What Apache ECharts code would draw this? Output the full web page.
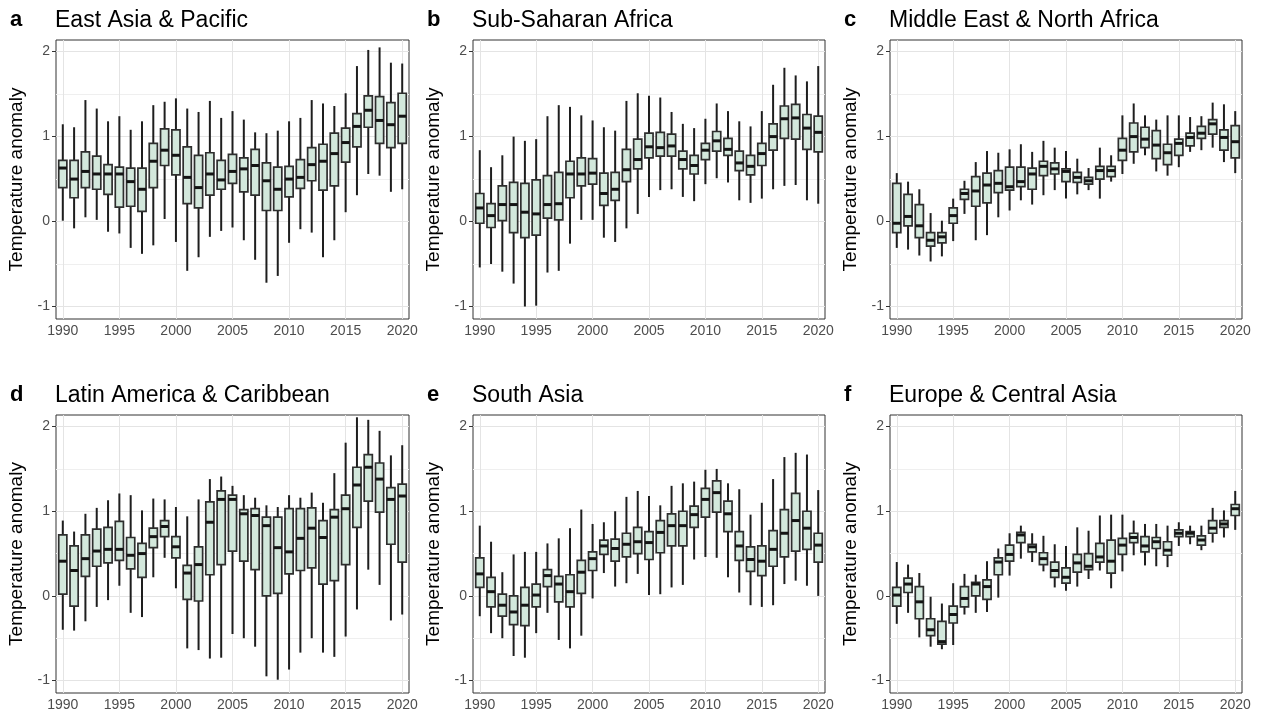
<!DOCTYPE html>
<html><head><meta charset="utf-8">
<script src="https://cdn.jsdelivr.net/npm/echarts@6/dist/echarts.min.js"></script>
<style>html,body{margin:0;padding:0;background:#fff}#c{width:1266px;height:718px}</style>
</head><body><div id="c"></div>
<script>
const years = [1990,1991,1992,1993,1994,1995,1996,1997,1998,1999,2000,2001,2002,2003,2004,2005,2006,2007,2008,2009,2010,2011,2012,2013,2014,2015,2016,2017,2018,2019,2020];
const xTicks = [1990,1995,2000,2005,2010,2015,2020];
const yTicks = [-1,0,1,2];
const gridMajorY = [-1,0,1,2];
const gridMinorY = [-0.5,0.5,1.5];
const regionNames = ['East Asia & Pacific','Sub-Saharan Africa','Middle East & North Africa','Latin America & Caribbean','South Asia','Europe & Central Asia'];
const panelLetters = ['a','b','c','d','e','f'];

// a: East Asia & Pacific
const eapMin = [0.01,-0.08,0.05,0.02,-0.12,-0.14,-0.31,-0.38,-0.28,0.03,-0.24,-0.58,-0.42,-0.18,-0.11,-0.07,-0.22,-0.45,-0.72,-0.64,-0.25,-0.09,-0.13,-0.42,-0.22,0.11,0.31,0.56,0.54,0.35,0.38];
const eapQ1  = [0.40,0.28,0.40,0.38,0.32,0.17,0.18,0.12,0.40,0.66,0.55,0.21,0.16,0.31,0.38,0.45,0.35,0.31,0.13,0.13,0.29,0.39,0.48,0.37,0.42,0.70,0.88,1.11,0.92,0.87,0.92];
const eapMed = [0.63,0.50,0.59,0.56,0.56,0.56,0.47,0.38,0.71,0.84,0.78,0.52,0.40,0.56,0.49,0.59,0.62,0.66,0.48,0.38,0.50,0.52,0.67,0.71,0.80,0.93,1.12,1.31,1.19,1.14,1.24];
const eapQ3  = [0.72,0.72,0.82,0.77,0.67,0.64,0.63,0.63,0.92,1.09,1.08,0.88,0.78,0.81,0.72,0.79,0.75,0.85,0.69,0.64,0.65,0.73,0.87,0.91,1.04,1.10,1.27,1.48,1.47,1.40,1.51];
const eapMax = [1.145,1.11,1.43,1.33,1.18,1.24,1.08,1.18,1.37,1.41,1.45,1.33,1.29,1.42,1.22,1.30,1.20,1.05,1.04,1.07,1.18,1.22,1.43,1.39,1.36,1.51,1.83,2.02,2.05,1.87,1.86];

// b: Sub-Saharan Africa
const ssaMin = [-0.54,-0.50,-0.59,-0.73,-1.0,-0.99,-0.60,-0.58,-0.26,0.02,0.02,-0.19,-0.24,-0.08,0.09,0.29,0.37,0.38,0.29,0.24,0.44,0.51,0.46,0.25,0.22,0.27,0.38,0.42,0.43,0.25,0.21];
const ssaQ1  = [-0.02,-0.07,0.01,-0.13,-0.19,-0.16,0.04,0.02,0.28,0.42,0.44,0.19,0.25,0.47,0.62,0.75,0.77,0.77,0.62,0.56,0.73,0.83,0.78,0.60,0.55,0.66,0.84,0.98,0.97,0.85,0.82];
const ssaMed = [0.16,0.07,0.20,0.20,0.11,0.09,0.20,0.21,0.56,0.56,0.57,0.33,0.38,0.61,0.73,0.88,0.87,0.89,0.73,0.66,0.84,0.95,0.85,0.69,0.65,0.80,1.00,1.21,1.22,1.10,1.05];
const ssaQ3  = [0.33,0.21,0.42,0.46,0.45,0.49,0.54,0.58,0.71,0.75,0.74,0.57,0.58,0.85,0.97,1.04,1.05,1.03,0.83,0.78,0.92,1.06,0.98,0.83,0.78,0.92,1.15,1.36,1.38,1.26,1.24];
const ssaMax = [0.84,0.64,0.78,1.00,0.95,0.97,1.24,1.37,1.35,1.25,1.19,1.11,1.07,1.42,1.51,1.48,1.46,1.29,1.15,1.10,1.21,1.39,1.30,1.18,1.12,1.30,1.61,1.81,1.72,1.65,1.83];

// c: Middle East & North Africa
const menaMin = [-0.31,-0.33,-0.40,-0.47,-0.41,-0.23,0.09,-0.22,-0.16,0.05,0.13,0.25,0.20,0.31,0.37,0.27,0.32,0.37,0.27,0.47,0.56,0.68,0.78,0.59,0.54,0.64,0.82,0.84,0.87,0.70,0.57];
const menaQ1  = [-0.13,-0.05,-0.19,-0.29,-0.25,-0.02,0.26,0.18,0.22,0.34,0.37,0.41,0.38,0.54,0.56,0.47,0.46,0.44,0.50,0.53,0.72,0.82,0.87,0.74,0.67,0.78,0.89,0.98,1.03,0.84,0.75];
const menaMed = [-0.02,0.06,-0.05,-0.22,-0.18,0.07,0.33,0.36,0.43,0.45,0.41,0.47,0.56,0.65,0.62,0.59,0.52,0.48,0.60,0.60,0.84,1.00,0.97,0.90,0.81,0.92,0.99,1.04,1.15,0.99,0.94];
const menaQ3  = [0.45,0.32,0.20,-0.13,-0.13,0.16,0.38,0.53,0.57,0.60,0.64,0.64,0.63,0.71,0.69,0.62,0.58,0.52,0.65,0.65,0.98,1.16,1.11,1.07,0.91,0.97,1.04,1.12,1.20,1.08,1.13];
const menaMax = [0.57,0.47,0.38,0.10,0.01,0.27,0.48,0.70,0.83,0.81,0.85,0.91,0.82,0.95,0.87,0.83,0.74,0.63,0.87,0.78,1.25,1.39,1.25,1.20,1.25,1.25,1.23,1.24,1.40,1.38,1.30];

// d: Latin America & Caribbean
const lacMin = [-0.40,-0.41,-0.30,-0.13,-0.05,0.12,-0.20,-0.25,0.22,0.45,0.09,-0.62,-0.64,-0.74,-0.73,-0.45,-0.50,-0.60,-0.95,-0.99,-0.87,-0.67,-0.50,-0.67,-0.72,-0.48,-0.16,0.31,0.13,-0.29,-0.22];
const lacQ1  = [0.02,-0.12,0.23,0.35,0.39,0.42,0.32,0.22,0.57,0.70,0.45,-0.04,-0.06,0.25,0.37,0.53,0.41,0.31,0.00,0.03,0.26,0.30,0.33,0.14,0.18,0.37,0.81,1.12,0.99,0.61,0.40];
const lacMed = [0.41,0.30,0.44,0.53,0.55,0.55,0.48,0.50,0.70,0.82,0.58,0.27,0.37,0.87,1.14,1.14,0.97,0.95,0.83,0.57,0.52,0.68,0.80,0.69,0.93,1.03,1.31,1.52,1.38,1.14,1.18];
const lacQ3  = [0.72,0.59,0.72,0.79,0.81,0.88,0.69,0.62,0.80,0.89,0.70,0.36,0.58,1.11,1.24,1.19,1.02,1.03,0.93,0.93,1.03,1.03,1.04,0.89,1.02,1.19,1.52,1.67,1.57,1.28,1.32];
const lacMax = [0.89,0.76,0.97,1.04,1.13,1.21,1.19,1.01,1.15,1.14,1.05,0.94,1.14,1.38,1.41,1.30,1.19,1.16,1.07,1.05,1.19,1.16,1.22,1.10,1.45,1.81,2.11,2.08,1.95,1.66,1.78];

// e: South Asia
const saMin = [-0.24,-0.44,-0.50,-0.71,-0.73,-0.44,-0.20,-0.52,-0.62,-0.47,-0.03,0.27,0.11,0.15,0.26,0.01,0.02,0.10,0.13,0.43,0.46,0.45,0.22,0.04,-0.11,-0.13,-0.11,0.14,0.18,0.12,0.00];
const saQ1  = [0.10,-0.13,-0.24,-0.34,-0.35,-0.13,0.11,-0.07,-0.13,0.03,0.30,0.49,0.41,0.46,0.50,0.43,0.51,0.59,0.59,0.81,0.93,0.99,0.76,0.42,0.29,0.24,0.35,0.46,0.53,0.55,0.40];
const saMed = [0.26,0.05,-0.11,-0.19,-0.11,0.01,0.24,0.14,0.05,0.28,0.44,0.59,0.56,0.61,0.64,0.63,0.75,0.83,0.83,0.96,1.14,1.22,0.97,0.59,0.43,0.41,0.55,0.74,0.89,0.80,0.60];
const saQ3  = [0.45,0.22,0.02,0.00,0.10,0.14,0.31,0.23,0.25,0.42,0.52,0.66,0.67,0.74,0.81,0.76,0.89,0.97,1.00,1.06,1.27,1.36,1.12,0.76,0.58,0.59,0.77,1.02,1.21,1.00,0.74];
const saMax = [0.83,0.64,0.28,0.49,0.52,0.52,0.62,0.68,0.80,1.02,0.85,0.87,1.00,1.17,1.24,1.18,1.07,1.30,1.33,1.35,1.49,1.50,1.33,1.26,0.96,1.10,1.38,1.64,1.69,1.67,1.25];

// f: Europe & Central Asia
const ecaMin = [-0.33,-0.20,-0.49,-0.60,-0.63,-0.58,-0.22,-0.20,-0.19,-0.02,0.24,0.44,0.40,0.29,0.10,0.06,0.11,0.20,0.30,0.09,0.29,0.48,0.36,0.35,0.34,0.59,0.61,0.54,0.63,0.69,0.78];
const ecaQ1  = [-0.12,0.04,-0.27,-0.47,-0.57,-0.32,-0.13,0.00,-0.04,0.25,0.41,0.63,0.52,0.37,0.22,0.15,0.28,0.31,0.40,0.27,0.49,0.63,0.52,0.56,0.48,0.70,0.70,0.60,0.74,0.81,0.95];
const ecaMed = [0.01,0.14,-0.07,-0.40,-0.54,-0.22,-0.03,0.14,0.11,0.40,0.49,0.72,0.58,0.44,0.30,0.22,0.39,0.35,0.46,0.41,0.60,0.69,0.59,0.64,0.54,0.74,0.74,0.66,0.80,0.85,1.03];
const ecaQ3  = [0.10,0.21,0.11,-0.27,-0.30,-0.12,0.11,0.16,0.19,0.45,0.60,0.75,0.61,0.51,0.40,0.33,0.49,0.50,0.62,0.66,0.68,0.74,0.70,0.69,0.64,0.78,0.76,0.71,0.89,0.89,1.08];
const ecaMax = [0.40,0.37,0.27,-0.01,-0.09,0.15,0.26,0.25,0.41,0.56,0.74,0.83,0.74,0.71,0.61,0.59,0.81,0.77,0.95,0.96,0.96,0.89,0.85,0.85,0.83,0.87,0.83,0.83,1.04,1.01,1.24];

const panelData = [
  [eapMin, eapQ1, eapMed, eapQ3, eapMax],
  [ssaMin, ssaQ1, ssaMed, ssaQ3, ssaMax],
  [menaMin, menaQ1, menaMed, menaQ3, menaMax],
  [lacMin, lacQ1, lacMed, lacQ3, lacMax],
  [saMin, saQ1, saMed, saQ3, saMax],
  [ecaMin, ecaQ1, ecaMed, ecaQ3, ecaMax]
];

const layout = [
  {left:56, top:40, width:353, height:279},
  {left:473, top:40, width:352, height:279},
  {left:890, top:40, width:352, height:279},
  {left:56, top:415, width:353, height:278},
  {left:473, top:415, width:352, height:278},
  {left:890, top:415, width:352, height:278}
];

const FONT = '"Liberation Sans", Arial, sans-serif';

function renderBox(params, api) {
  const yr = api.value(0);
  const pLo = api.coord([yr, api.value(1)]);
  const pQ1 = api.coord([yr, api.value(2)]);
  const pMed = api.coord([yr, api.value(3)]);
  const pQ3 = api.coord([yr, api.value(4)]);
  const pHi = api.coord([yr, api.value(5)]);
  const w = api.size([0.72, 0])[0];
  const x = pMed[0];
  return {type:'group', children:[
    {type:'line', shape:{x1:x, y1:pHi[1], x2:x, y2:pLo[1]}, style:{stroke:'#1e1e1e', lineWidth:2}},
    {type:'rect', shape:{x:x-w/2, y:pQ3[1], width:w, height:pQ1[1]-pQ3[1]}, style:{fill:'#d3e8dc', stroke:'#2e2e2e', lineWidth:1.7}},
    {type:'line', shape:{x1:x-w/2, y1:pMed[1], x2:x+w/2, y2:pMed[1]}, style:{stroke:'#141414', lineWidth:3}}
  ]};
}

const grids = [], xAxes = [], yAxes = [], series = [], titles = [];
layout.forEach((L, i) => {
  grids.push({left:L.left, top:L.top, width:L.width, height:L.height, show:true, borderColor:'#333333', borderWidth:1, backgroundColor:'transparent', containLabel:false});
  xAxes.push({type:'value', gridIndex:i, min:1989.4, max:2020.6,
    axisLine:{show:false}, splitLine:{show:false},
    axisTick:{show:true, length:4, lineStyle:{color:'#333333'}, customValues:xTicks},
    axisLabel:{show:true, color:'#4d4d4d', fontSize:14, fontFamily:FONT, margin:5, customValues:xTicks, formatter:v => String(v)}
  });
  yAxes.push({type:'value', gridIndex:i, min:-1.147, max:2.137,
    name:'Temperature anomaly', nameLocation:'middle', nameGap:30,
    nameTextStyle:{color:'#000', fontSize:19, fontFamily:FONT},
    axisLine:{show:false}, splitLine:{show:false},
    axisTick:{show:true, length:4, lineStyle:{color:'#333333'}, customValues:yTicks},
    axisLabel:{show:true, color:'#4d4d4d', fontSize:14, fontFamily:FONT, margin:6, customValues:yTicks, formatter:v => String(v)}
  });
  const d = panelData[i];
  const rows = years.map((y, k) => [y, d[0][k], d[1][k], d[2][k], d[3][k], d[4][k]]);
  const gl = [];
  gridMinorY.forEach(v => gl.push({yAxis:v, lineStyle:{color:'#efefef', width:1, type:'solid'}}));
  gridMajorY.forEach(v => gl.push({yAxis:v, lineStyle:{color:'#e4e4e4', width:1, type:'solid'}}));
  xTicks.forEach(v => gl.push({xAxis:v, lineStyle:{color:'#e4e4e4', width:1, type:'solid'}}));
  series.push({type:'line', xAxisIndex:i, yAxisIndex:i, data:[[1990, 0]], showSymbol:false, symbol:'none',
    lineStyle:{opacity:0}, silent:true, z:1, animation:false,
    markLine:{silent:true, symbol:'none', z:1, animation:false, label:{show:false}, data:gl}
  });
  series.push({type:'custom', xAxisIndex:i, yAxisIndex:i, data:rows, renderItem:renderBox,
    encode:{x:0, y:[1,2,3,4,5]}, z:10, clip:false, animation:false, silent:true});
  titles.push({text:panelLetters[i], left:L.left-46, top:L.top-31, padding:0,
    textStyle:{fontSize:22, fontWeight:'bold', color:'#000', fontFamily:FONT}});
  titles.push({text:regionNames[i], left:L.left-1, top:L.top-31, padding:0,
    textStyle:{fontSize:23, fontWeight:'normal', color:'#000', fontFamily:FONT}});
});

const chart = echarts.init(document.getElementById('c'), null, {renderer:'canvas'});
chart.setOption({
  backgroundColor:'#ffffff',
  animation:false,
  title:titles,
  grid:grids,
  xAxis:xAxes,
  yAxis:yAxes,
  series:series
});
</script>
</body></html>
